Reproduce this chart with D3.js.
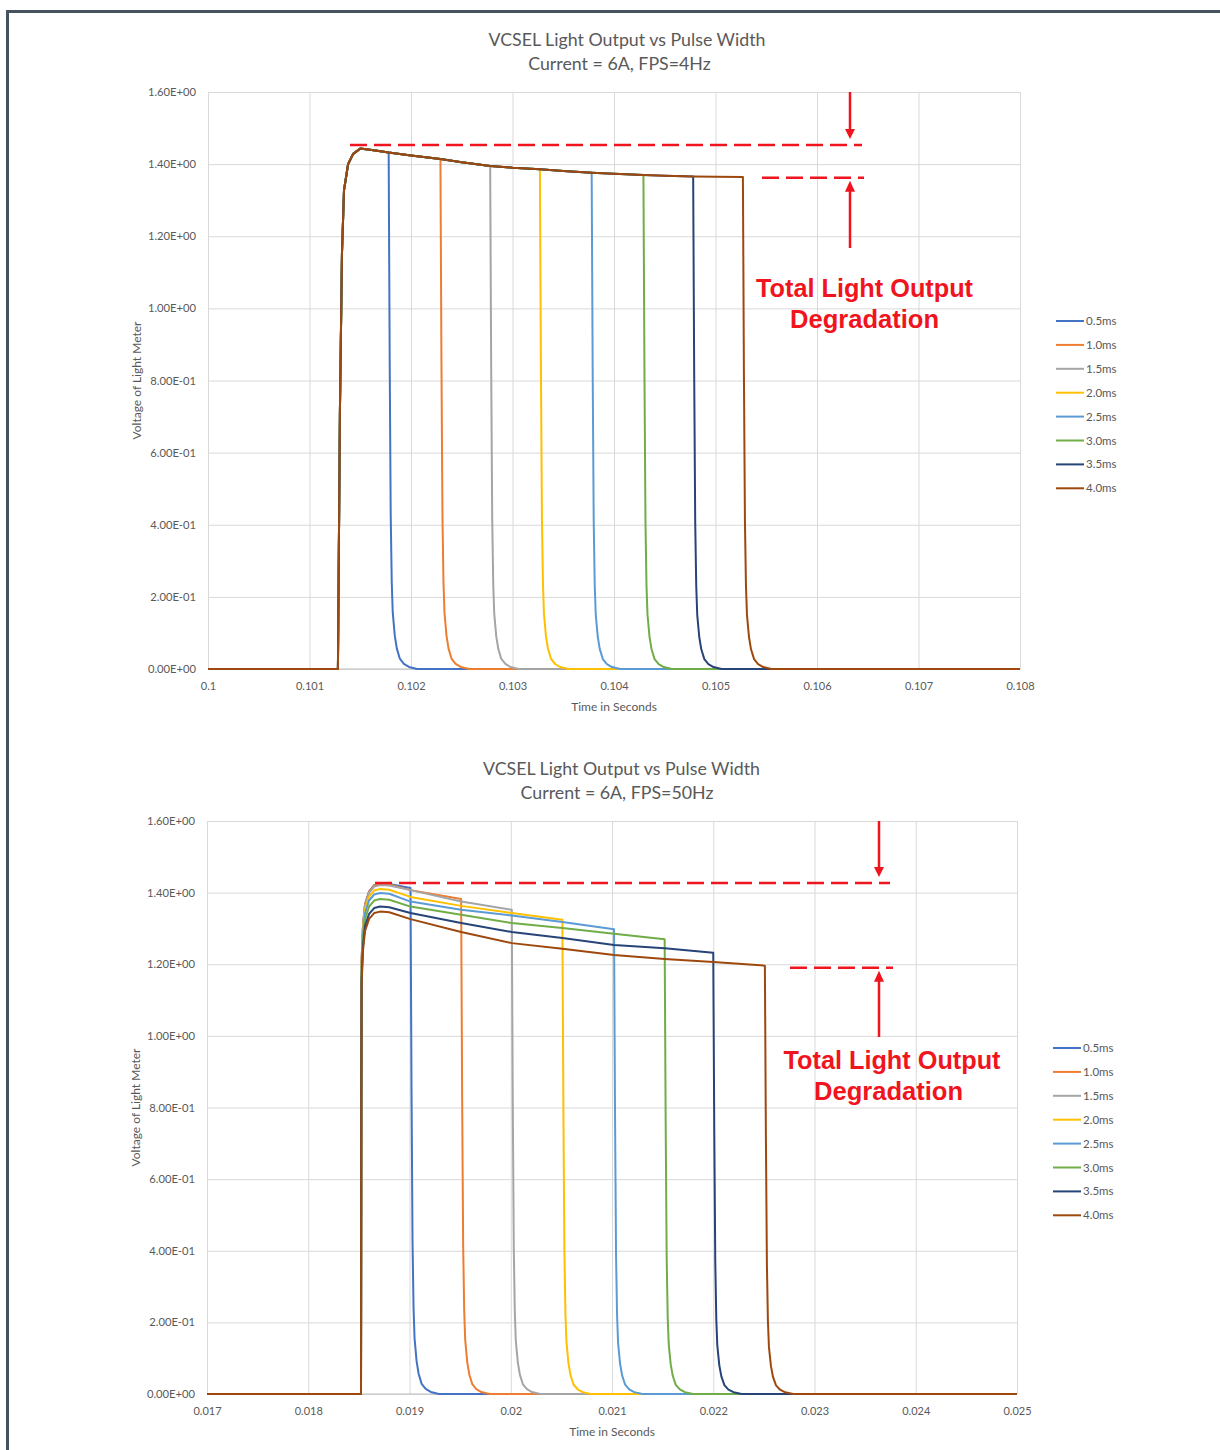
<!DOCTYPE html>
<html><head><meta charset="utf-8">
<script src="https://cdn.jsdelivr.net/npm/d3@7"></script>
<style>
html,body{margin:0;padding:0;background:#fff;}
svg{display:block;}
</style></head>
<body>
<svg id="chart" width="1220" height="1450"></svg>
<script>
// ---------- data ----------
const seriesNames = ["0.5ms","1.0ms","1.5ms","2.0ms","2.5ms","3.0ms","3.5ms","4.0ms"];
const seriesColors = ["#4472C4","#ED7D31","#A5A5A5","#FFC000","#5B9BD5","#70AD47","#264478","#9E480E"];
const yTickValues = [0,0.2,0.4,0.6,0.8,1.0,1.2,1.4,1.6];
const yTickLabels = ["0.00E+00","2.00E-01","4.00E-01","6.00E-01","8.00E-01","1.00E+00","1.20E+00","1.40E+00","1.60E+00"];

// Top chart (FPS=4Hz)
const topXTickValues = [0.100,0.101,0.102,0.103,0.104,0.105,0.106,0.107,0.108];
const topXTickLabels = ["0.1","0.101","0.102","0.103","0.104","0.105","0.106","0.107","0.108"];
const topStart = 0.10128;
const topEnds = [0.10178,0.10229,0.10278,0.10327,0.10378,0.10429,0.10478,0.10527];
// rise: time offset after start, fraction of peak
const topRiseOffsets = [0,0.00002,0.00004,0.00006,0.00010,0.00015,0.00022];
const topRiseFractions = [0,0.5,0.8,0.92,0.97,0.99,1.0];
// shared plateau (all pulse widths overlap)
const topPlateauTimes = [0.10150,0.10165,0.10178,0.10200,0.10229,0.10250,0.10278,0.10300,0.10327,0.10350,0.10378,0.10400,0.10429,0.10450,0.10478,0.10500,0.10527];
const topPlateauValues = [1.443,1.438,1.432,1.424,1.414,1.405,1.395,1.390,1.386,1.381,1.376,1.373,1.370,1.368,1.366,1.365,1.364];

// Bottom chart (FPS=50Hz)
const botXTickValues = [0.017,0.018,0.019,0.020,0.021,0.022,0.023,0.024,0.025];
const botXTickLabels = ["0.017","0.018","0.019","0.02","0.021","0.022","0.023","0.024","0.025"];
const botStart = 0.018521;
const botEnds = [0.01901,0.01951,0.02001,0.02051,0.02102,0.02152,0.02200,0.02251];
const botRiseOffsets = [0,0.000003,0.000006,0.00002,0.00004,0.00008,0.00013];
const botRiseFractions = [0,0.6,0.85,0.92,0.96,0.985,0.997];
const botPlateauTimes = [0.01871,0.01880,0.01901,0.01951,0.02001,0.02051,0.02102,0.02152,0.02200,0.02251];
const bot05 = [1.425,1.424,1.413];
const bot10 = [1.424,1.423,1.407,1.382];
const bot15 = [1.421,1.420,1.407,1.375,1.352];
const bot20 = [1.410,1.408,1.388,1.363,1.343,1.324];
const bot25 = [1.399,1.397,1.375,1.352,1.336,1.318,1.298];
const bot30 = [1.382,1.380,1.361,1.338,1.315,1.301,1.285,1.270];
const bot35 = [1.361,1.359,1.343,1.315,1.290,1.273,1.254,1.245,1.232];
const bot40 = [1.347,1.345,1.326,1.290,1.259,1.243,1.226,1.215,1.206,1.196];
const botPlateaus = [bot05,bot10,bot15,bot20,bot25,bot30,bot35,bot40];

// fall: time offset after end, fraction of last value
const fallOffsets = [0,0.00001,0.00002,0.00003,0.00004,0.00006,0.00008,0.00011,0.00015,0.00020,0.00028];
const fallFractions = [1,0.6,0.3,0.17,0.11,0.065,0.04,0.02,0.01,0.004,0];

// ---------- drawing ----------
const svg = d3.select("#chart");
const FONT = "Lato, 'Open Sans', sans-serif";
const TXT = "#595959";

// page frame
svg.append("rect").attr("x",6).attr("y",10).attr("width",1214).attr("height",3).attr("fill","#46535f");
svg.append("rect").attr("x",6).attr("y",10).attr("width",3).attr("height",1440).attr("fill","#46535f");

function buildSeries(start, end, riseOff, riseFrac, pTimes, pVals, x0, x1) {
  const peak = pVals[0];
  const pts = [[x0,0]];
  riseOff.forEach((o,i)=>pts.push([start+o, riseFrac[i]*peak]));
  pTimes.forEach((t,i)=>{ if (t <= end + 1e-9 && i < pVals.length) pts.push([t,pVals[i]]); });
  const last = pts[pts.length-1][1];
  fallOffsets.forEach((o,i)=>pts.push([end+o, fallFractions[i]*last]));
  pts.push([x1,0]);
  return pts;
}

function drawChart(cfg) {
  const g = svg.append("g");
  const x = d3.scaleLinear().domain(cfg.xDomain).range([cfg.left,cfg.right]);
  const y = d3.scaleLinear().domain([0,1.6]).range([cfg.bottom,cfg.top]);

  // gridlines
  g.append("g").attr("transform",`translate(0,${cfg.bottom})`)
    .call(d3.axisBottom(x).tickValues(cfg.xTicks).tickSize(-(cfg.bottom-cfg.top)).tickFormat(""))
    .call(s=>{s.select(".domain").remove(); s.selectAll("line").attr("stroke","#d9d9d9");});
  g.append("g").attr("transform",`translate(${cfg.left},0)`)
    .call(d3.axisLeft(y).tickValues(yTickValues).tickSize(-(cfg.right-cfg.left)).tickFormat(""))
    .call(s=>{s.select(".domain").remove(); s.selectAll("line").attr("stroke","#d9d9d9");});

  // y tick labels
  g.append("g").attr("transform",`translate(${cfg.left-9},0)`)
    .call(d3.axisLeft(y).tickValues(yTickValues).tickSize(0).tickFormat((d,i)=>yTickLabels[i]))
    .call(s=>{s.select(".domain").remove();
      s.selectAll("text").attr("font-family",FONT).attr("font-size",11.2).attr("fill",TXT);});
  // x tick labels
  g.append("g").attr("transform",`translate(0,${cfg.bottom+10})`)
    .call(d3.axisBottom(x).tickValues(cfg.xTicks).tickSize(0).tickFormat((d,i)=>cfg.xLabels[i]))
    .call(s=>{s.select(".domain").remove();
      s.selectAll("text").attr("font-family",FONT).attr("font-size",11).attr("fill",TXT);});
  // bottom axis line
  g.append("line").attr("x1",cfg.left).attr("x2",cfg.right).attr("y1",cfg.bottom).attr("y2",cfg.bottom)
    .attr("stroke","#bfbfbf");

  // lines
  const line = d3.line().x(d=>x(d[0])).y(d=>y(d[1]));
  cfg.series.forEach((pts,i)=>{
    g.append("path").attr("d",line(pts)).attr("fill","none")
      .attr("stroke",seriesColors[i]).attr("stroke-width",2).attr("stroke-linejoin","round");
  });

  // titles
  g.append("text").attr("x",cfg.titleX).attr("y",cfg.titleY).attr("text-anchor","middle")
    .attr("font-family",FONT).attr("font-size",17.8).attr("fill",TXT).text("VCSEL Light Output vs Pulse Width");
  g.append("text").attr("x",cfg.subX).attr("y",cfg.titleY+24).attr("text-anchor","middle")
    .attr("font-family",FONT).attr("font-size",17.8).attr("fill",TXT).text(cfg.subtitle);
  // axis titles
  g.append("text").attr("x",(cfg.left+cfg.right)/2).attr("y",cfg.bottom+42).attr("text-anchor","middle")
    .attr("font-family",FONT).attr("font-size",12).attr("fill",TXT).text("Time in Seconds");
  g.append("text").attr("transform",`translate(${cfg.left-67},${(cfg.top+cfg.bottom)/2}) rotate(-90)`)
    .attr("text-anchor","middle").attr("font-family",FONT).attr("font-size",12).attr("fill",TXT)
    .text("Voltage of Light Meter");

  // legend
  const lg = g.append("g");
  seriesNames.forEach((n,i)=>{
    const ly = cfg.legendY + i*23.9;
    lg.append("line").attr("x1",cfg.legendX).attr("x2",cfg.legendX+28).attr("y1",ly).attr("y2",ly)
      .attr("stroke",seriesColors[i]).attr("stroke-width",2);
    lg.append("text").attr("x",cfg.legendX+30).attr("y",ly+4).attr("font-family",FONT).attr("font-size",11.5)
      .attr("fill",TXT).text(n);
  });

  // annotations
  const a = cfg.ann;
  const red = "#f0141e";
  g.append("line").attr("x1",a.d1x1).attr("x2",a.d1x2).attr("y1",y(a.v1)).attr("y2",y(a.v1))
    .attr("stroke",red).attr("stroke-width",2.5).attr("stroke-dasharray","17,7");
  g.append("line").attr("x1",a.d2x1).attr("x2",a.d2x2).attr("y1",y(a.v2)).attr("y2",y(a.v2))
    .attr("stroke",red).attr("stroke-width",2.5).attr("stroke-dasharray","17,7");
  // down arrow
  g.append("line").attr("x1",a.ax).attr("x2",a.ax).attr("y1",cfg.top).attr("y2",y(a.v1)-14)
    .attr("stroke",red).attr("stroke-width",2.5);
  g.append("path").attr("d",`M${a.ax-5},${y(a.v1)-16}L${a.ax+5},${y(a.v1)-16}L${a.ax},${y(a.v1)-6}Z`).attr("fill",red);
  // up arrow
  g.append("line").attr("x1",a.ax).attr("x2",a.ax).attr("y1",a.upBottom).attr("y2",y(a.v2)+12)
    .attr("stroke",red).attr("stroke-width",2.5);
  g.append("path").attr("d",`M${a.ax-5},${y(a.v2)+14}L${a.ax+5},${y(a.v2)+14}L${a.ax},${y(a.v2)+3}Z`).attr("fill",red);
  g.append("text").attr("x",a.tx).attr("y",a.ty).attr("text-anchor","middle")
    .attr("font-family","'Liberation Sans', Arial, sans-serif").attr("font-weight","bold").attr("font-size",25)
    .attr("textLength",217).attr("lengthAdjust","spacingAndGlyphs")
    .attr("fill",red).text("Total Light Output");
  g.append("text").attr("x",a.tx2).attr("y",a.ty+31).attr("text-anchor","middle")
    .attr("font-family","'Liberation Sans', Arial, sans-serif").attr("font-weight","bold").attr("font-size",25)
    .attr("textLength",149).attr("lengthAdjust","spacingAndGlyphs")
    .attr("fill",red).text("Degradation");
}

const topSeries = topEnds.map(e=>buildSeries(topStart,e,topRiseOffsets,topRiseFractions,topPlateauTimes,topPlateauValues,0.100,0.108));
const botSeries = botEnds.map((e,i)=>buildSeries(botStart,e,botRiseOffsets,botRiseFractions,botPlateauTimes,botPlateaus[i],0.017,0.025));

drawChart({
  xDomain:[0.100,0.108], left:208, right:1020, top:92, bottom:669,
  xTicks:topXTickValues, xLabels:topXTickLabels, series:topSeries,
  titleX:627, subX:619.5, titleY:46, subtitle:"Current = 6A, FPS=4Hz",
  legendX:1056, legendY:321,
  ann:{v1:1.453, v2:1.362, d1x1:350, d1x2:862, d2x1:762, d2x2:864, ax:850, upBottom:248, tx:864.5, tx2:864.5, ty:297}
});
drawChart({
  xDomain:[0.017,0.025], left:207, right:1017, top:821, bottom:1394,
  xTicks:botXTickValues, xLabels:botXTickLabels, series:botSeries,
  titleX:621.5, subX:617, titleY:775, subtitle:"Current = 6A, FPS=50Hz",
  legendX:1053, legendY:1048,
  ann:{v1:1.427, v2:1.190, d1x1:375, d1x2:890, d2x1:790, d2x2:893, ax:879, upBottom:1037, tx:892, tx2:888.5, ty:1069}
});
</script>
</body></html>
